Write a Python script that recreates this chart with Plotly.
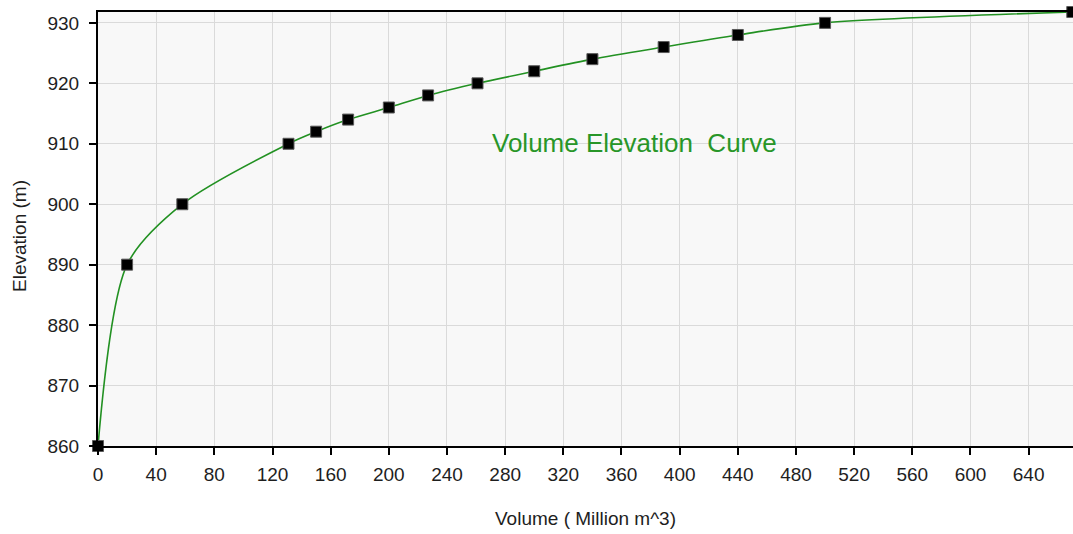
import plotly.graph_objects as go

# Reservoir volume (million m^3) vs. elevation (m)
volume = [0, 20, 58, 131, 150, 172, 200, 227, 261, 300, 340, 389, 440, 500, 670]
elevation = [860, 890, 900, 910, 912, 914, 916, 918, 920, 922, 924, 926, 928, 930, 931.8]

x_ticks = list(range(0, 641, 40))
y_ticks = list(range(860, 931, 10))

line_green = "rgb(34,145,34)"
grid_col = "rgb(218,218,218)"
font_fam = "Liberation Sans, Arial, sans-serif"
text_col = "rgb(30,30,30)"

fig = go.Figure()
fig.add_trace(go.Scatter(
    x=volume, y=elevation,
    mode="lines+markers",
    line=dict(color=line_green, width=1.6, shape="spline", smoothing=0.8),
    marker=dict(symbol="square", size=11, color="black",
                line=dict(color="rgb(90,90,90)", width=1)),
    cliponaxis=False,
    showlegend=False,
))

# Chart caption inside the plot area
fig.add_annotation(
    x=0.5503, y=0.698, xref="paper", yref="paper",
    xanchor="center", yanchor="middle",
    text="Volume Elevation  Curve", showarrow=False,
    font=dict(family=font_fam, size=26, color="rgb(40,150,40)"),
)

# Vertical axis title
fig.add_annotation(
    x=-0.08, y=0.484, xref="paper", yref="paper",
    xanchor="center", yanchor="middle", textangle=-90,
    text="Elevation (m)", showarrow=False,
    font=dict(family=font_fam, size=19, color=text_col),
)

fig.update_layout(
    width=1073, height=534,
    margin=dict(l=98, r=0, t=12, b=88),
    paper_bgcolor="white",
    plot_bgcolor="rgb(248,248,248)",
    font=dict(family=font_fam, color=text_col),
)

fig.update_xaxes(
    range=[0, 670.5],
    tickvals=x_ticks, ticktext=[str(v) for v in x_ticks],
    ticks="outside", ticklen=7, tickcolor="black", tickwidth=1.5,
    tickfont=dict(size=19, color=text_col),
    ticklabelstandoff=3,
    showgrid=True, gridcolor=grid_col, gridwidth=1,
    showline=True, linecolor="black", linewidth=2, mirror=True,
    zeroline=False,
    title=dict(text="Volume ( Million m^3)", font=dict(size=19, color=text_col), standoff=28),
)
fig.update_yaxes(
    range=[860, 931.8],
    tickvals=y_ticks, ticktext=[str(v) for v in y_ticks],
    ticks="outside", ticklen=7, tickcolor="black", tickwidth=1.5,
    tickfont=dict(size=19, color=text_col),
    ticklabelstandoff=6,
    showgrid=True, gridcolor=grid_col, gridwidth=1,
    showline=True, linecolor="black", linewidth=2, mirror=False,
    zeroline=False,
)

fig.write_html("out.html")
